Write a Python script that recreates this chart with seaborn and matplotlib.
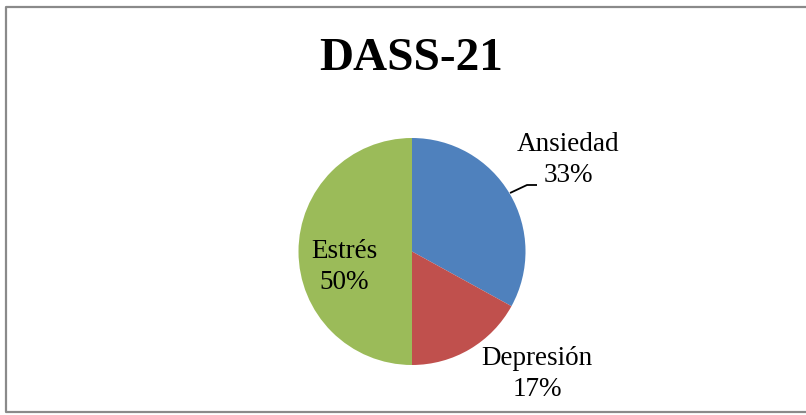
import matplotlib
matplotlib.use("Agg")
import matplotlib.pyplot as plt
import seaborn as sns

# Data
categories = ["Ansiedad", "Depresión", "Estrés"]
values = [33, 17, 50]
colors = ["#4F81BD", "#C0504D", "#9BBB59"]
title = "DASS-21"

sns.set_theme(style="white")
plt.rcParams["font.family"] = ["Liberation Serif", "DejaVu Serif"]

W, H = 806, 415
fig = plt.figure(figsize=(W / 100, H / 100), dpi=100)
ax = fig.add_axes([0, 0, 1, 1])

def py(y):
    # pixel row -> data y
    return H - y

cx, cy, r = 412, py(251.5), 113.5
ax.pie(values, colors=colors, startangle=90, counterclock=False,
       center=(cx, cy), radius=r, wedgeprops=dict(linewidth=0))
ax.set_xlim(0, W)
ax.set_ylim(0, H)
ax.set_aspect("equal")
ax.axis("off")

# Labels
label_pos = {"Ansiedad": (568, 160), "Depresión": (537, 374), "Estrés": (344, 267)}
for name, v in zip(categories, values):
    x, y = label_pos[name]
    ax.text(x, py(y), f"{name}\n{v}%", ha="center", va="center",
            fontsize=19.5, color="black", linespacing=1.35)

# Leader line for Ansiedad
ax.plot([510, 527, 537], [py(193), py(185), py(185)], color="black", lw=1.3,
        solid_capstyle="butt")

# Title
ax.text(411, py(59), title, ha="center", va="center", fontsize=34,
        fontweight="bold", color="black")

# Chart border (left, top, bottom)
ax.plot([830, 6, 6, 830], [py(7), py(7), py(412), py(412)], color="#8a8a8a",
        lw=1.6, clip_on=False)

fig.savefig("out.png", dpi=100)
